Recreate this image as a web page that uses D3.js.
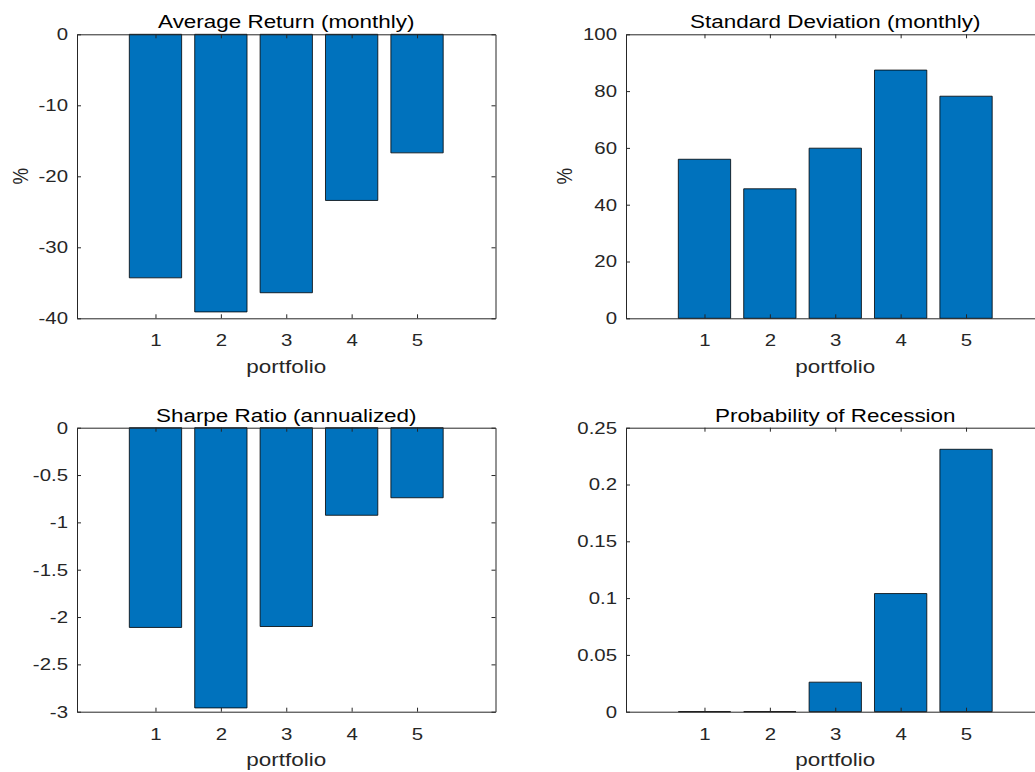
<!DOCTYPE html>
<html>
<head>
<meta charset="utf-8">
<script src="https://cdn.jsdelivr.net/npm/d3@7"></script>
<style>
  html, body { margin: 0; padding: 0; background: #fff; overflow: hidden; }
  svg { display: block; font-family: "Liberation Sans", Arial, sans-serif; }
</style>
</head>
<body>
<div id="chart"></div>
<script>
// values
const portfolios = [1, 2, 3, 4, 5];
const avgReturn = [-34.3, -39.1, -36.4, -23.4, -16.7];
const stdDev = [56.0, 45.6, 59.9, 87.4, 78.2];
const sharpe = [-2.11, -2.96, -2.10, -0.925, -0.74];
const probRecession = [0, 0, 0.026, 0.104, 0.231];

const xTicks = [1, 2, 3, 4, 5];
const avgTicks = [-40, -30, -20, -10, 0];
const stdTicks = [0, 20, 40, 60, 80, 100];
const sharpeTicks = [-3, -2.5, -2, -1.5, -1, -0.5, 0];
const probTicks = [0, 0.05, 0.1, 0.15, 0.2, 0.25];

const W = 1035, H = 772;
const axisColor = `#262626`;
const barColor = `#0072BD`;
const stretch = 1.2; // the reference is drawn a little wide

const panels = [
  { title: `Average Return (monthly)`, values: avgReturn, ticks: avgTicks, domain: [-40, 0], ylabel: `%`, left: 77, top: 34.3, labelX: 28 },
  { title: `Standard Deviation (monthly)`, values: stdDev, ticks: stdTicks, domain: [0, 100], ylabel: `%`, left: 626, top: 34.3, labelX: 572 },
  { title: `Sharpe Ratio (annualized)`, values: sharpe, ticks: sharpeTicks, domain: [-3, 0], ylabel: null, left: 77, top: 427.7 },
  { title: `Probability of Recession`, values: probRecession, ticks: probTicks, domain: [0, 0.25], ylabel: null, left: 626, top: 427.7 }
];
const axW = 418.5, axH = 284;

const svg = d3.select(`#chart`).append(`svg`)
    .attr(`width`, W)
    .attr(`height`, H);

const widen = (sel) => {
  sel.each(function () {
    const t = d3.select(this);
    const x = +t.attr(`x`) || 0;
    const y = +t.attr(`y`) || 0;
    t.attr(`x`, 0).attr(`y`, 0)
      .attr(`transform`, `translate(${x},${y}) scale(${stretch},1)`);
  });
};

panels.forEach((p) => {
  const g = svg.append(`g`).attr(`transform`, `translate(${p.left},${p.top})`);

  const x = d3.scaleLinear().domain([-0.2, 6.2]).range([0, axW]);
  const y = d3.scaleLinear().domain(p.domain).range([axH, 0]);

  // bars, as paths so zero-height ones still show their edge
  g.selectAll(`path.bar`)
      .data(p.values)
    .enter().append(`path`)
      .attr(`class`, `bar`)
      .attr(`d`, (d, i) => {
        const x0 = x(portfolios[i] - 0.4), x1 = x(portfolios[i] + 0.4);
        return `M${x0},${y(0)}H${x1}V${y(d)}H${x0}Z`;
      })
      .attr(`fill`, barColor)
      .attr(`stroke`, `#000`)
      .attr(`stroke-width`, 0.8);

  const fmt = (v) => String(v);

  const bottom = g.append(`g`).attr(`transform`, `translate(0,${axH})`)
      .call(d3.axisBottom(x).tickValues(xTicks).tickFormat(fmt).tickSizeInner(-4).tickSizeOuter(0).tickPadding(16));
  const leftAx = g.append(`g`)
      .call(d3.axisLeft(y).tickValues(p.ticks).tickFormat(fmt).tickSizeInner(-4).tickSizeOuter(0).tickPadding(9));
  const topAx = g.append(`g`)
      .call(d3.axisTop(x).tickValues(xTicks).tickFormat(``).tickSizeInner(-4).tickSizeOuter(0));
  const rightAx = g.append(`g`).attr(`transform`, `translate(${axW},0)`)
      .call(d3.axisRight(y).tickValues(p.ticks).tickFormat(``).tickSizeInner(-4).tickSizeOuter(0));

  [bottom, leftAx, topAx, rightAx].forEach((a) => {
    a.selectAll(`path, line`).attr(`stroke`, axisColor).attr(`stroke-width`, 1);
    a.selectAll(`text`)
        .attr(`fill`, axisColor)
        .attr(`font-size`, 17)
        .attr(`font-family`, `"Liberation Sans", Arial, sans-serif`);
  });
  widen(bottom.selectAll(`text`));
  widen(leftAx.selectAll(`text`));

  g.append(`text`)
      .attr(`transform`, `translate(${axW / 2},-6.2) scale(${stretch},1)`)
      .attr(`text-anchor`, `middle`)
      .attr(`font-size`, 18.7)
      .attr(`fill`, `#000`)
      .text(p.title);

  g.append(`text`)
      .attr(`transform`, `translate(${axW / 2},${axH + 54.6}) scale(${stretch},1)`)
      .attr(`text-anchor`, `middle`)
      .attr(`font-size`, 18.7)
      .attr(`fill`, axisColor)
      .text(`portfolio`);

  if (p.ylabel) {
    g.append(`text`)
        .attr(`transform`, `translate(${p.labelX - p.left},${axH / 2}) scale(${stretch},1) rotate(-90)`)
        .attr(`text-anchor`, `middle`)
        .attr(`font-size`, 18.7)
        .attr(`fill`, axisColor)
        .text(p.ylabel);
  }
});
</script>
</body>
</html>
